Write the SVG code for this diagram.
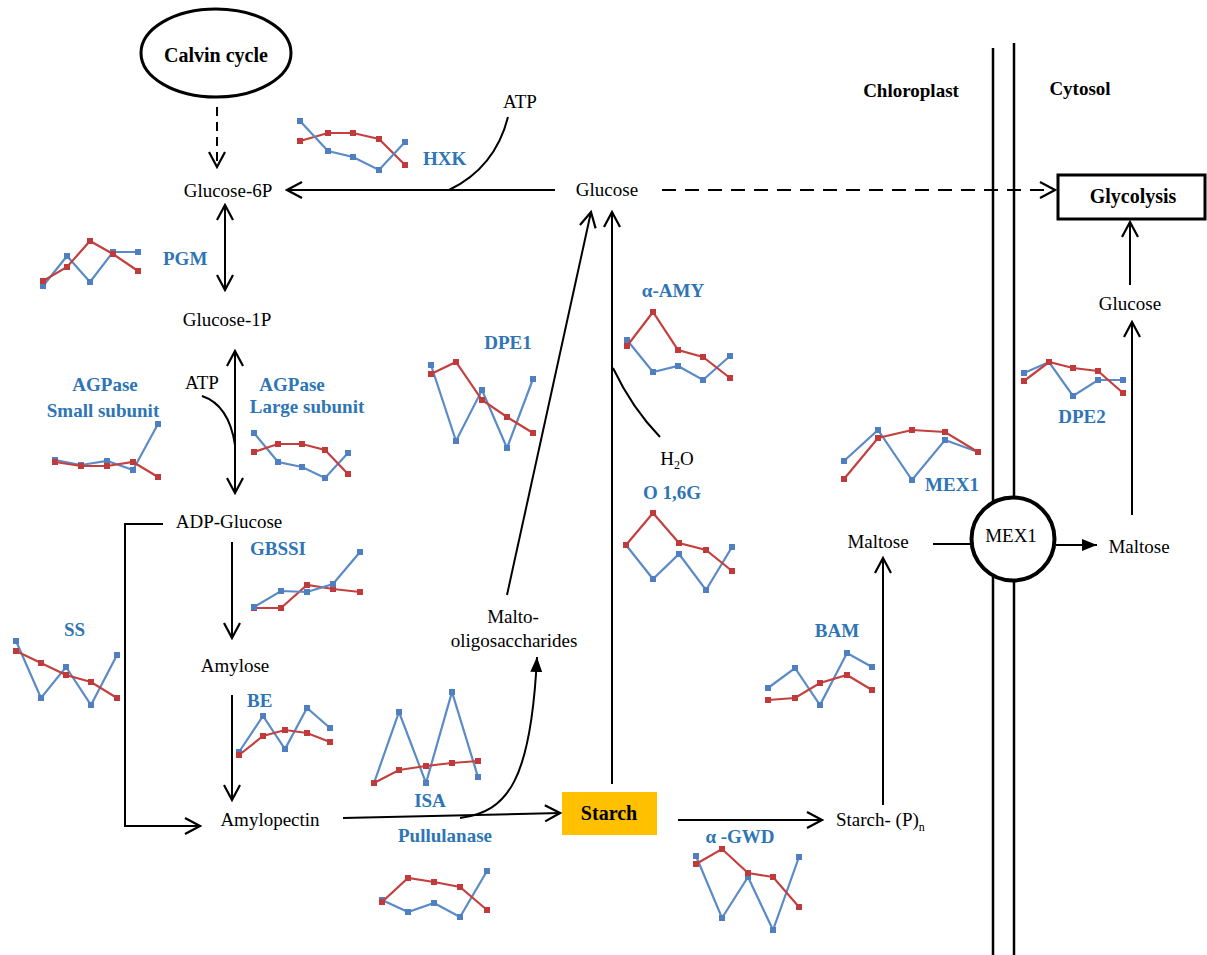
<svg xmlns="http://www.w3.org/2000/svg" width="1207" height="955" viewBox="0 0 1207 955" font-family="'Liberation Serif', 'DejaVu Serif', serif">
<style>
text{font-family:'Liberation Serif','DejaVu Serif',serif;font-size:19px;fill:#000}
.lb{font-weight:bold;fill:#2E75B6}
.bd{font-weight:bold}
.c{text-anchor:middle}
.ln{fill:none;stroke:#000;stroke-width:2}
.b{fill:none;stroke:#5B8BC6;stroke-width:2.2;marker-start:url(#sqB);marker-mid:url(#sqB);marker-end:url(#sqB)}
.r{fill:none;stroke:#C4403F;stroke-width:2.2;marker-start:url(#sqR);marker-mid:url(#sqR);marker-end:url(#sqR)}
</style>
<defs>
<marker id="open" viewBox="0 0 18 18" refX="16" refY="9" markerWidth="18" markerHeight="18" markerUnits="userSpaceOnUse" orient="auto-start-reverse"><path d="M1,1 L16,9 L1,17" fill="none" stroke="#000" stroke-width="2.2"/></marker>
<marker id="fill" viewBox="0 0 16 14" refX="15" refY="7" markerWidth="16" markerHeight="14" markerUnits="userSpaceOnUse" orient="auto"><path d="M0,1 L15,7 L0,13 Z" fill="#000"/></marker>
<marker id="sqB" viewBox="0 0 6 6" refX="3" refY="3" markerWidth="6" markerHeight="6" markerUnits="userSpaceOnUse"><rect width="6" height="6" fill="#4F7FC0"/></marker>
<marker id="sqR" viewBox="0 0 6 6" refX="3" refY="3" markerWidth="6" markerHeight="6" markerUnits="userSpaceOnUse"><rect width="6" height="6" fill="#C0393B"/></marker>
</defs>
<rect width="1207" height="955" fill="#fff"/>

<g id="membrane">
<line x1="993" y1="48" x2="993" y2="955" stroke="#000" stroke-width="2.5"/>
<line x1="1014" y1="43" x2="1014" y2="955" stroke="#000" stroke-width="2.5"/>
<text class="bd c" x="911" y="97">Chloroplast</text>
<text class="bd c" x="1080" y="95">Cytosol</text>
</g>

<g id="connectors">
<path class="ln" d="M217,107 L217,167" stroke-dasharray="9,6" marker-end="url(#open)"/>
<path class="ln" d="M555,190 L287,190" marker-end="url(#open)"/>
<path class="ln" d="M449,190 Q495,168 508,117"/>
<path class="ln" d="M225,205 L225,290" marker-start="url(#open)" marker-end="url(#open)"/>
<path class="ln" d="M235,351 L235,493" marker-start="url(#open)" marker-end="url(#open)"/>
<path class="ln" d="M202,396 Q229,405 235,445"/>
<path class="ln" d="M232,542 L232,638" marker-end="url(#open)"/>
<path class="ln" d="M232,695 L232,800" marker-end="url(#open)"/>
<path class="ln" d="M163,524 H125 V826 H200" marker-end="url(#open)"/>
<path class="ln" d="M343,818 L560,813" marker-end="url(#open)"/>
<path class="ln" d="M460,818 C508,812 531,780 537,657" marker-end="url(#fill)"/>
<path class="ln" d="M612,784 L612,212" marker-end="url(#open)"/>
<path class="ln" d="M613,368 Q632,408 660,437"/>
<path class="ln" d="M507,595 L591,212" marker-end="url(#open)"/>
<path class="ln" d="M662,190 L1055,190" stroke-dasharray="14,9" marker-end="url(#open)"/>
<path class="ln" d="M678,820 L822,820" marker-end="url(#open)"/>
<path class="ln" d="M883,805 L883,558" marker-end="url(#open)"/>
<path class="ln" d="M933,544 L972,544"/>
<path class="ln" d="M1056,545 L1097,545" marker-end="url(#fill)"/>
<path class="ln" d="M1132,515 L1132,322" marker-end="url(#open)"/>
<path class="ln" d="M1130,285 L1130,222" marker-end="url(#open)"/>
</g>

<g id="calvin">
<ellipse cx="216" cy="53" rx="75" ry="44" fill="#fff" stroke="#000" stroke-width="3"/>
<text class="bd c" x="216" y="62" style="font-size:20px">Calvin cycle</text>
</g>
<g id="glucose6p"><text class="c" x="228" y="197">Glucose-6P</text></g>
<g id="glucose1p"><text class="c" x="227" y="326">Glucose-1P</text></g>
<g id="adpglucose"><text class="c" x="229" y="528">ADP-Glucose</text></g>
<g id="amylose"><text class="c" x="235" y="672">Amylose</text></g>
<g id="amylopectin"><text class="c" x="270" y="826">Amylopectin</text></g>
<g id="glucose"><text class="c" x="607" y="196">Glucose</text></g>
<g id="atp1"><text class="c" x="520" y="108">ATP</text></g>
<g id="atp2"><text class="c" x="202" y="389">ATP</text></g>
<g id="h2o"><text class="c" x="677" y="465">H<tspan dy="4" style="font-size:12px">2</tspan><tspan dy="-4">O</tspan></text></g>
<g id="malto"><text class="c" x="513" y="623">Malto-</text><text class="c" x="514" y="647">oligosaccharides</text></g>
<g id="starch">
<rect x="562" y="792" width="95" height="43" fill="#FFC000"/>
<text class="bd c" x="609" y="820" style="font-size:20px">Starch</text>
</g>
<g id="starchp"><text x="836" y="826">Starch- (P)<tspan dy="5" style="font-size:12px">n</tspan></text></g>
<g id="maltose1"><text class="c" x="878" y="548">Maltose</text></g>
<g id="mex1">
<circle cx="1013" cy="539" r="41.5" fill="#fff" stroke="#000" stroke-width="4"/>
<text class="c" x="1011" y="542">MEX1</text>
</g>
<g id="maltose2"><text class="c" x="1139" y="553">Maltose</text></g>
<g id="glucose2"><text class="c" x="1130" y="310">Glucose</text></g>
<g id="glycolysis">
<rect x="1058" y="175" width="147" height="44" fill="#fff" stroke="#000" stroke-width="3"/>
<text class="bd c" x="1133" y="203" style="font-size:20px">Glycolysis</text>
</g>

<g id="hxk">
<text class="lb" x="423" y="165">HXK</text>
<polyline class="r" points="300,141 328,133 353,133 379,139 405,165"/>
<polyline class="b" points="300,121 328,151 353,157 379,170 405,142"/>
</g>
<g id="pgm">
<text class="lb" x="163" y="265">PGM</text>
<polyline class="b" points="43,286 67,256 90,282 113,252 138,252"/>
<polyline class="r" points="43,281 67,267 90,241 113,254 138,271"/>
</g>
<g id="agpase-small">
<text class="lb c" x="105" y="391">AGPase</text>
<text class="lb c" x="103" y="417">Small subunit</text>
<polyline class="b" points="55,460 81,465 107,461 133,470 158,424"/>
<polyline class="r" points="55,462 81,466 107,466 133,462 158,477"/>
</g>
<g id="agpase-large">
<text class="lb c" x="292" y="391">AGPase</text>
<text class="lb c" x="307" y="413">Large subunit</text>
<polyline class="b" points="254,433 278,462 302,467 325,478 348,453"/>
<polyline class="r" points="254,452 278,444 302,444 325,450 348,474"/>
</g>
<g id="gbssi">
<text class="lb" x="250" y="555">GBSSI</text>
<polyline class="r" points="254,608 281,608 307,585 333,589 360,592"/>
<polyline class="b" points="254,607 281,591 307,592 333,584 360,552"/>
</g>
<g id="ss">
<text class="lb" x="64" y="636">SS</text>
<polyline class="b" points="16,641 41,698 66,667 91,705 117,655"/>
<polyline class="r" points="16,651 41,663 66,675 91,682 117,698"/>
</g>
<g id="be">
<text class="lb" x="247" y="707">BE</text>
<polyline class="b" points="239,752 263,716 285,749 307,708 330,728"/>
<polyline class="r" points="239,755 263,736 285,730 307,733 330,742"/>
</g>
<g id="isa">
<text class="lb c" x="430" y="807">ISA</text>
<polyline class="b" points="374,783 399,712 426,783 452,692 478,777"/>
<polyline class="r" points="374,783 399,770 426,766 452,763 478,761"/>
</g>
<g id="pullulanase">
<text class="lb c" x="445" y="842">Pullulanase</text>
<polyline class="b" points="382,900 408,912 434,903 460,917 487,871"/>
<polyline class="r" points="382,902 408,878 434,882 460,887 487,910"/>
</g>
<g id="dpe1">
<text class="lb c" x="508" y="349">DPE1</text>
<polyline class="b" points="431,365 456,441 482,390 507,448 533,379"/>
<polyline class="r" points="431,374 456,362 482,400 507,417 533,433"/>
</g>
<g id="aamy">
<text class="lb c" x="673" y="297">α-AMY</text>
<polyline class="b" points="627,340 653,372 678,366 703,380 730,356"/>
<polyline class="r" points="627,346 653,312 678,350 703,357 730,378"/>
</g>
<g id="o16g">
<text class="lb c" x="672" y="499">O 1,6G</text>
<polyline class="b" points="626,545 653,579 679,554 706,590 732,547"/>
<polyline class="r" points="626,545 653,513 679,543 706,550 732,571"/>
</g>
<g id="agwd">
<text class="lb c" x="740" y="843">α -GWD</text>
<polyline class="b" points="696,856 722,918 748,877 773,930 799,857"/>
<polyline class="r" points="696,864 722,849 748,873 773,877 799,907"/>
</g>
<g id="bam">
<text class="lb c" x="837" y="637">BAM</text>
<polyline class="b" points="768,688 795,668 820,705 847,653 872,667"/>
<polyline class="r" points="768,700 795,698 820,683 847,675 872,690"/>
</g>
<g id="mex1-chart">
<text class="lb c" x="952" y="491">MEX1</text>
<polyline class="b" points="844,461 878,430 912,480 945,440 978,452"/>
<polyline class="r" points="844,479 878,438 912,430 945,432 978,452"/>
</g>
<g id="dpe2">
<text class="lb c" x="1082" y="423">DPE2</text>
<polyline class="b" points="1024,373 1049,362 1073,396 1098,380 1123,380"/>
<polyline class="r" points="1024,381 1049,362 1073,368 1098,371 1123,393"/>
</g>
</svg>
